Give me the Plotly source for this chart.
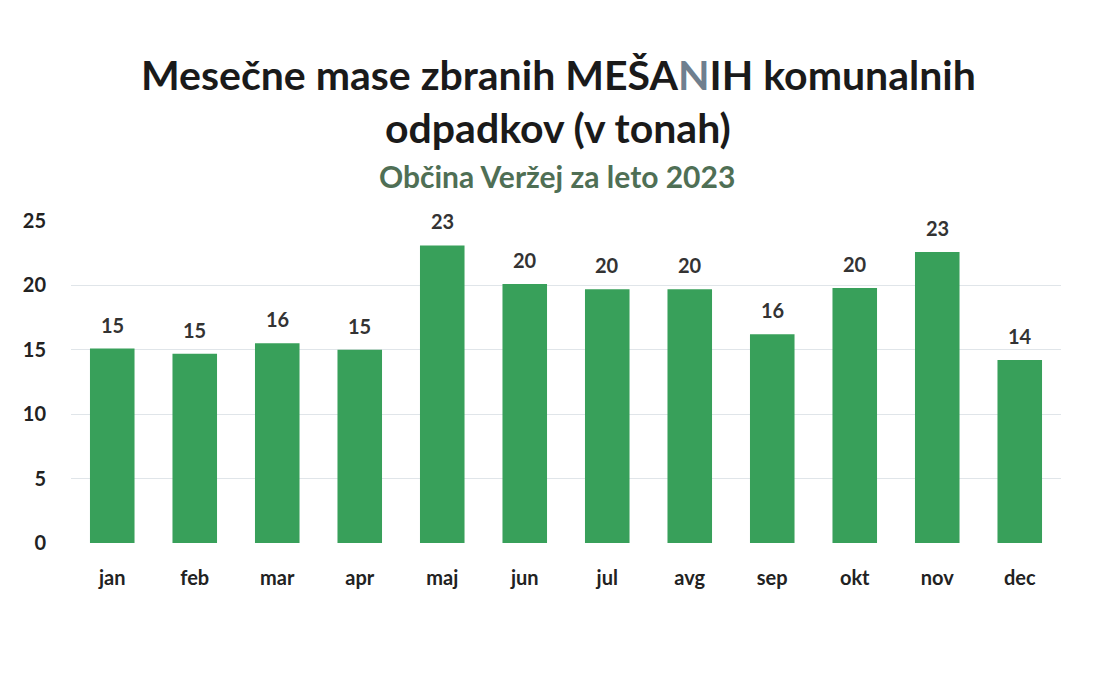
import plotly.graph_objects as go

months = ["jan", "feb", "mar", "apr", "maj", "jun", "jul", "avg", "sep", "okt", "nov", "dec"]
tons = [15.1, 14.7, 15.5, 15.0, 23.1, 20.1, 19.7, 19.7, 16.2, 19.8, 22.6, 14.2]
y_ticks = [0, 5, 10, 15, 20, 25]

FONT = "Lato, Open Sans, sans-serif"
W, H = 1093, 674
L, R, T, B = 63, 40, 213, 139
OFF = 8  # page body margin


def px_x(page_x):
    return (page_x - OFF - L) / (W - L - R)


def px_y(page_y):
    return (H - B - (page_y - OFF)) / (H - T - B)


fig = go.Figure()
fig.add_trace(go.Bar(
    x=months,
    y=tons,
    marker=dict(color="#38a05a", line=dict(width=0)),
    cliponaxis=False,
    width=0.54,
))

value_labels = [
    dict(x=m, y=v, text=f"<b>{v:.0f}</b>", xref="x", yref="y",
         showarrow=False, yanchor="middle", yshift=24,
         font=dict(family=FONT, size=20, color="#333333"))
    for m, v in zip(months, tons)
]

title_labels = [
    dict(text="<b>Mesečne mase zbranih MEŠA<span style='color:#6f7f8f'>N</span>IH komunalnih</b>",
         xref="paper", yref="paper", x=px_x(558), y=px_y(75),
         xanchor="center", yanchor="middle", showarrow=False,
         font=dict(family=FONT, size=41, color="#1a1a1a")),
    dict(text="<b>odpadkov (v tonah)</b>",
         xref="paper", yref="paper", x=px_x(558), y=px_y(128),
         xanchor="center", yanchor="middle", showarrow=False,
         font=dict(family=FONT, size=41, color="#1a1a1a")),
    dict(text="<b>Občina Veržej za leto 2023</b>",
         xref="paper", yref="paper", x=px_x(557), y=px_y(176),
         xanchor="center", yanchor="middle", showarrow=False,
         font=dict(family=FONT, size=30, color="#4f6f55")),
]

fig.update_layout(
    width=W,
    height=H,
    paper_bgcolor="white",
    plot_bgcolor="white",
    margin=dict(l=L, r=R, t=T, b=B),
    showlegend=False,
    annotations=title_labels + value_labels,
    xaxis=dict(
        showgrid=False,
        showline=False,
        ticks="",
        automargin=False,
        tickfont=dict(family=FONT, size=20, color="#222222", weight="bold"),
        ticklabelstandoff=21,
    ),
    yaxis=dict(
        range=[0, 25],
        tickvals=y_ticks,
        showgrid=True,
        gridcolor="#e0e5e9",
        gridwidth=1,
        zeroline=False,
        showline=False,
        automargin=False,
        tickfont=dict(family=FONT, size=20, color="#222222", weight="bold"),
        ticklabelstandoff=24,
    ),
)

fig.write_html("out.html")
